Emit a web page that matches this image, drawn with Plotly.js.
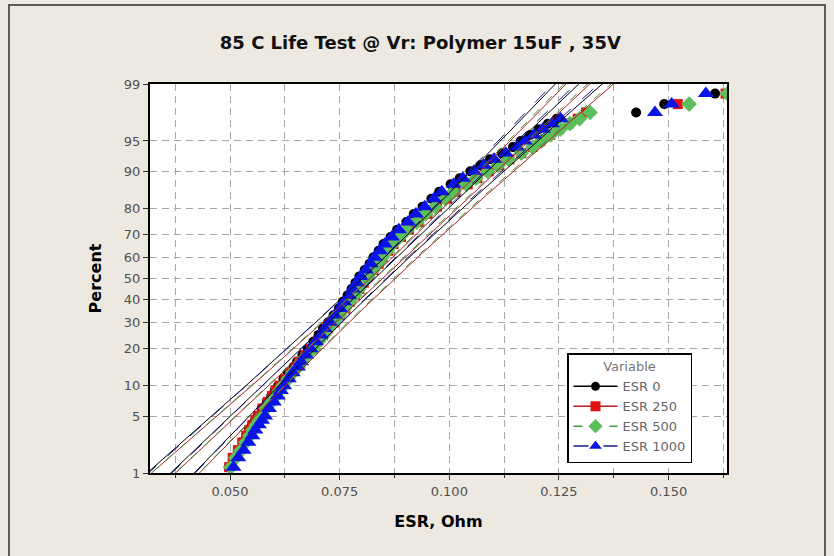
<!DOCTYPE html>
<html><head><meta charset="utf-8">
<script src="https://cdn.plot.ly/plotly-3.0.1.min.js"></script>
<style>
html,body{margin:0;padding:0;background:#EDE9E1;}
#wrap{position:relative;width:834px;height:556px;overflow:hidden;}
#chart{width:834px;height:556px;}
#frame{position:absolute;left:8px;top:4px;width:818px;height:570px;border:2px solid #5a5a5a;pointer-events:none;box-sizing:border-box;}
</style></head><body>
<div id="wrap"><div id="chart"></div><div id="frame"></div></div>
<script>
// ---- data ----
const seriesNames = ["ESR 0", "ESR 250", "ESR 500", "ESR 1000"];
const percents = [1.2,1.6,2.0,2.5,3.0,3.5,4.0,4.5,5,6,7,8,9,10,11.5,13,14.5,16,18,20,22.5,25,27.5,30,33,36,39,42,45,48,51,54,57,60,63,66,69,72,75,78,80.5,83,85,87,88.5,90,91.2,92.3,93.3,94.2,95,95.7,96.3,96.8,97.2,97.65,98.15,98.65];
const esr0 = [0.0497,0.0507,0.0518,0.0529,0.0537,0.0543,0.0550,0.0557,0.0563,0.0572,0.0584,0.0594,0.0602,0.0610,0.0622,0.0632,0.0645,0.0653,0.0665,0.0677,0.0690,0.0702,0.0712,0.0724,0.0736,0.0748,0.0757,0.0768,0.0777,0.0786,0.0795,0.0807,0.0818,0.0827,0.0839,0.0850,0.0866,0.0881,0.0902,0.0919,0.0939,0.0959,0.0977,0.1003,0.1024,0.1048,0.1071,0.1093,0.1120,0.1145,0.1163,0.1184,0.1204,0.1225,0.1245,0.1426,0.1490,0.1606];
const esr250 = [0.0498,0.0506,0.0518,0.0528,0.0537,0.0544,0.0551,0.0558,0.0565,0.0574,0.0586,0.0596,0.0604,0.0613,0.0626,0.0637,0.0650,0.0658,0.0672,0.0685,0.0699,0.0712,0.0723,0.0737,0.0750,0.0763,0.0773,0.0785,0.0795,0.0805,0.0815,0.0827,0.0839,0.0848,0.0861,0.0873,0.0890,0.0908,0.0930,0.0950,0.0972,0.0995,0.1014,0.1042,0.1064,0.1090,0.1113,0.1137,0.1164,0.1190,0.1208,0.1230,0.1250,0.1272,0.1293,0.1312,0.1521,0.1630];
const esr500 = [0.0502,0.0513,0.0525,0.0536,0.0545,0.0552,0.0560,0.0567,0.0573,0.0583,0.0595,0.0605,0.0613,0.0621,0.0633,0.0643,0.0656,0.0663,0.0676,0.0689,0.0701,0.0714,0.0724,0.0736,0.0749,0.0761,0.0772,0.0784,0.0794,0.0803,0.0814,0.0826,0.0837,0.0847,0.0859,0.0871,0.0887,0.0904,0.0926,0.0946,0.0968,0.0991,0.1010,0.1039,0.1061,0.1087,0.1111,0.1135,0.1164,0.1190,0.1210,0.1231,0.1253,0.1275,0.1297,0.1321,0.1547,0.1634];
const esr1000 = [0.0508,0.0519,0.0531,0.0542,0.0551,0.0558,0.0566,0.0573,0.0580,0.0589,0.0600,0.0609,0.0616,0.0623,0.0634,0.0643,0.0655,0.0662,0.0673,0.0684,0.0696,0.0707,0.0716,0.0728,0.0739,0.0751,0.0760,0.0771,0.0780,0.0789,0.0798,0.0810,0.0821,0.0830,0.0842,0.0853,0.0869,0.0885,0.0906,0.0924,0.0944,0.0965,0.0983,0.1010,0.1031,0.1056,0.1079,0.1102,0.1129,0.1154,0.1172,0.1193,0.1213,0.1234,0.1254,0.1469,0.1507,0.1585];
// normal fit parameters
const fitMean = [0.0830, 0.0848, 0.0845, 0.0828];
const fitStDev = [0.0200, 0.0203, 0.0202, 0.0198];
const sampleN = [200, 200, 200, 200];
const percentTicks = [1,5,10,20,30,40,50,60,70,80,90,95,99];

// ---- styles ----
const colors = ["#000000", "#e01010", "#5cbf5c", "#0a14e6"];
const lineColors = ["#000000", "#b02020", "#3f9a3f", "#1a1a90"];
const symbols = ["circle", "square", "diamond", "triangle-up"];
const sizes = [10, 10, 12, 14];
const legendSizes = [9, 10, 11, 11];
const dashes = ["solid", "solid", "dash", "longdash"];

function norminv(p){
  const a=[-3.969683028665376e+01,2.209460984245205e+02,-2.759285104469687e+02,1.383577518672690e+02,-3.066479806614716e+01,2.506628277459239e+00];
  const b=[-5.447609879822406e+01,1.615858368580409e+02,-1.556989798598866e+02,6.680131188771972e+01,-1.328068155288572e+01];
  const c=[-7.784894002430293e-03,-3.223964580411365e-01,-2.400758277161838e+00,-2.549732539343734e+00,4.374664141464968e+00,2.938163982698783e+00];
  const d=[7.784695709041462e-03,3.224671290700398e-01,2.445134137142996e+00,3.754408661907416e+00];
  const pl=0.02425, ph=1-pl; let q,r;
  if(p<pl){q=Math.sqrt(-2*Math.log(p));return (((((c[0]*q+c[1])*q+c[2])*q+c[3])*q+c[4])*q+c[5])/((((d[0]*q+d[1])*q+d[2])*q+d[3])*q+1);}
  if(p<=ph){q=p-0.5;r=q*q;return (((((a[0]*r+a[1])*r+a[2])*r+a[3])*r+a[4])*r+a[5])*q/(((((b[0]*r+b[1])*r+b[2])*r+b[3])*r+b[4])*r+1);}
  q=Math.sqrt(-2*Math.log(1-p));return -(((((c[0]*q+c[1])*q+c[2])*q+c[3])*q+c[4])*q+c[5])/((((d[0]*q+d[1])*q+d[2])*q+d[3])*q+1);
}

const zPts = percents.map(p => norminv(p/100));
const allSeries = [esr0, esr250, esr500, esr1000];

const traces = [];
// data points
allSeries.forEach((vals, i) => {
  traces.push({
    type: "scatter", mode: "markers", name: seriesNames[i], showlegend: false,
    x: vals, y: zPts,
    marker: {symbol: symbols[i], size: sizes[i], color: colors[i]},
    hoverinfo: "skip"
  });
});
// fitted line and 95% confidence bounds for each series
const zCurve = [];
for (let z = -2.6; z <= 2.6001; z += 0.05) zCurve.push(z);
allSeries.forEach((vals, i) => {
  const mu = fitMean[i], sd = fitStDev[i], n = sampleN[i];
  const fit = zCurve.map(z => mu + z*sd);
  const half = zCurve.map(z => 1.96*sd*Math.sqrt((1 + z*z/2)/n));
  [fit, fit.map((v,k)=>v-half[k]), fit.map((v,k)=>v+half[k])].forEach(xs => {
    traces.push({
      type: "scatter", mode: "lines", x: xs, y: zCurve, showlegend: false,
      line: {color: lineColors[i], width: 1, dash: dashes[i]}, hoverinfo: "skip"
    });
  });
});
// legend entries (line + marker sample), one per series; points placed outside the visible range
allSeries.forEach((vals, i) => {
  traces.push({
    type: "scatter", mode: "lines+markers", name: seriesNames[i],
    x: [vals[0], vals[0]], y: [-10, -11],
    marker: {symbol: symbols[i], size: legendSizes[i], color: colors[i]},
    line: {color: lineColors[i], width: 1.5, dash: dashes[i]},
    hoverinfo: "skip"
  });
});

const gridCol = "#a8a8a8";
const fontFam = "DejaVu Sans, Verdana, sans-serif";
const layout = {
  width: 834, height: 556,
  paper_bgcolor: "#EDE9E1", plot_bgcolor: "#ffffff",
  margin: {l: 150, r: 107, t: 84, b: 83},
  title: {text: "85 C Life Test @ Vr: Polymer 15uF , 35V", x: 0.504, xref: "container", y: 1 - 43/556, yanchor: "middle",
          font: {family: fontFam, size: 18, color: "#111", weight: "bold"}},
  xaxis: {
    range: [0.03176, 0.16332], tick0: 0.05, dtick: 0.025, tickformat: ".3f",
    ticks: "outside", ticklen: 5, tickcolor: "#333",
    showline: true, linecolor: "#000", linewidth: 2, mirror: true,
    showgrid: true, gridcolor: gridCol, griddash: "7px,5px", gridwidth: 1, zeroline: false,
    minor: {tick0: 0.05, dtick: 0.0125, ticks: "outside", ticklen: 3, tickcolor: "#333", showgrid: true, gridcolor: gridCol, griddash: "7px,5px", gridwidth: 1},
    tickfont: {family: fontFam, size: 13, color: "#505050"},
    title: {text: "ESR, Ohm", standoff: 18, font: {family: fontFam, size: 16, color: "#000", weight: "bold"}}
  },
  yaxis: {
    range: [norminv(0.01), norminv(0.99)],
    tickmode: "array", tickvals: percentTicks.map(p => norminv(p/100)), ticktext: percentTicks.map(String),
    ticks: "outside", ticklen: 5, tickcolor: "#333",
    showline: true, linecolor: "#000", linewidth: 2, mirror: true,
    showgrid: true, gridcolor: gridCol, griddash: "7px,5px", gridwidth: 1, zeroline: false,
    tickfont: {family: fontFam, size: 13, color: "#505050"},
    title: {text: "Percent", standoff: 18, font: {family: fontFam, size: 16, color: "#000", weight: "bold"}}
  },
  legend: {
    x: (567-150)/577, y: (473-353)/389, xanchor: "left", yanchor: "top",
    bgcolor: "#ffffff", bordercolor: "#000", borderwidth: 1.5,
    font: {family: fontFam, size: 13, color: "#666"},
    title: {text: "Variable", side: "top center", font: {family: fontFam, size: 13, color: "#777"}},
    itemwidth: 44, tracegroupgap: 0
  },
  showlegend: true
};
Plotly.newPlot("chart", traces, layout, {displayModeBar: false, staticPlot: true});
</script>
</body></html>
